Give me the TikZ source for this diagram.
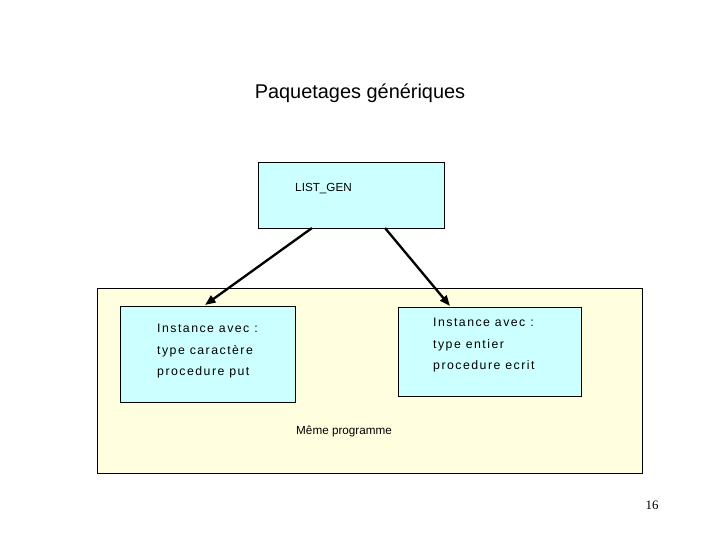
\documentclass[tikz,border=0pt]{standalone}
\usepackage{fontspec}
\setmainfont{Liberation Sans}
\newfontfamily\pagefont{Liberation Serif}
\newfontfamily\spacedfont[LetterSpace=12]{Liberation Sans}
\usetikzlibrary{arrows.meta}
\definecolor{boxcyan}{HTML}{CCFFFF}
\definecolor{progyellow}{HTML}{FFFFE0}
\begin{document}
\begin{tikzpicture}[x=0.03cm,y=-0.03cm,
                    box/.style={draw,fill=boxcyan,inner sep=0pt},
                    small/.style={font=\fontsize{10}{12}\selectfont,anchor=west,inner sep=0pt},
                    inst/.style={font=\spacedfont\fontsize{10.5}{12}\selectfont,anchor=west,inner sep=0pt},
                    link/.style={line width=2pt,-{Triangle[length=9pt,width=7pt]}}
                   ]
  \useasboundingbox (0,0) rectangle (720,540);
  \node (title) at (360,93) {\fontsize{17}{19}\selectfont Paquetages génériques};
  % generic package
  \draw[box] (258,162) rectangle (444,228);
  \node[small] (listgen) at (295,189) {LIST\_GEN};
  % program
  \draw[fill=progyellow] (97,288) rectangle (642,473);
  \draw[box] (120,306) rectangle (295,402);
  \draw[box] (398,307) rectangle (581,396);
  \node[inst] (l1) at (157,328) {Instance avec :};
  \node[inst] (l2) at (157,351) {type caractère};
  \node[inst] (l3) at (157,372) {procedure put};
  \node[inst] (r1) at (433,322) {Instance avec :};
  \node[inst] (r2) at (433,345) {type entier};
  \node[inst] (r3) at (433,366) {procedure ecrit};
  \node[small] (prog) at (296,431) {Même programme};
  \node (page) at (652,505) {\pagefont\fontsize{11}{13}\selectfont 16};
  \coordinate (s1) at (312,228);
  \coordinate (t1) at (205,305);
  \coordinate (s2) at (385,228);
  \coordinate (t2) at (450,306);
  \draw[link] (s1) -- (t1);
  \draw[link] (s2) -- (t2);
\end{tikzpicture}
\end{document}
